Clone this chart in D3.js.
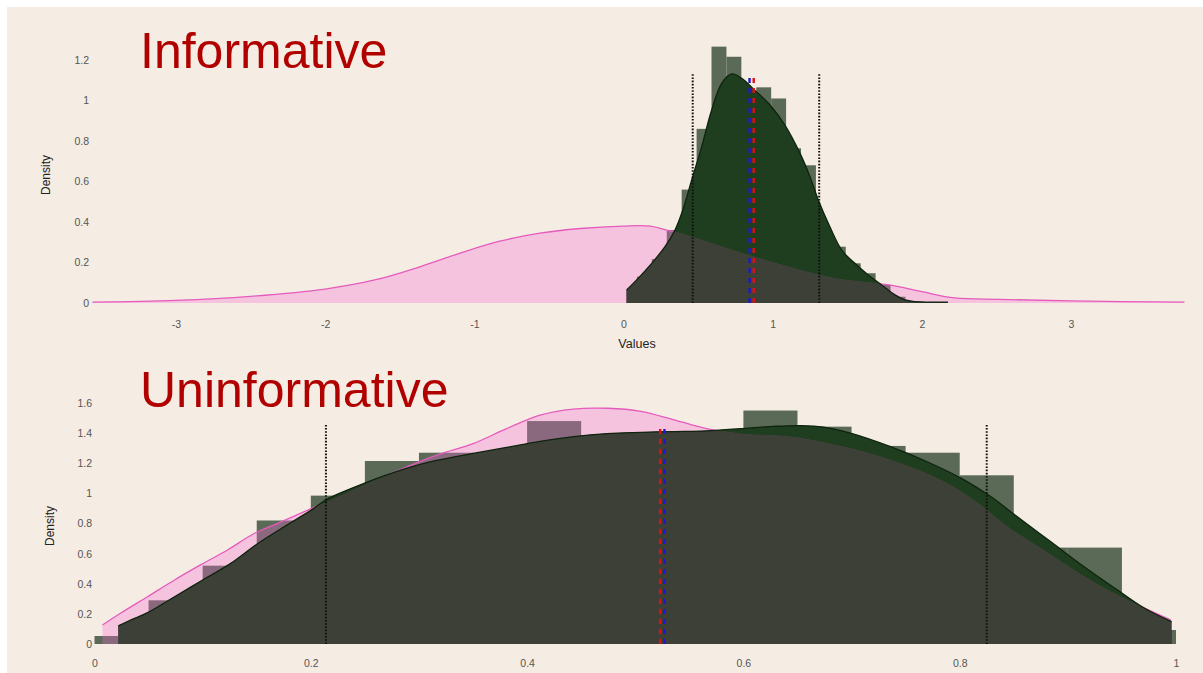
<!DOCTYPE html>
<html>
<head>
<meta charset="utf-8">
<script src="https://cdn.jsdelivr.net/npm/d3@7"></script>
<style>
  html, body { margin: 0; padding: 0; background: #ffffff; }
  #chart svg { display: block; }
  .axis text { font-family: "Liberation Sans", Arial, sans-serif; font-size: 10.5px; fill: #555; }
</style>
</head>
<body>
<div id="chart"></div>
<script>
// ---- Panel 1: Informative ----
const topTicksX = [-3, -2, -1, 0, 1, 2, 3];
const topTicksY = [0, 0.2, 0.4, 0.6, 0.8, 1, 1.2];
const topHistEdges = [0.02, 0.09, 0.19, 0.29, 0.39, 0.49, 0.59, 0.69, 0.79, 0.89, 0.99,
                      1.09, 1.19, 1.29, 1.39, 1.49, 1.59, 1.69, 1.79, 1.89];
const topHistDensity = [0.064, 0.13, 0.217, 0.36, 0.56, 0.86, 1.266, 1.216, 0.98, 1.065,
                        1.01, 0.764, 0.68, 0.336, 0.278, 0.196, 0.147, 0.089, 0.031];
const topPostX = [0.021, 0.088, 0.189, 0.278, 0.345, 0.39, 0.457, 0.524, 0.591, 0.658, 0.725,
                  0.792, 0.881, 0.982, 1.082, 1.183, 1.25, 1.306, 1.373, 1.462, 1.551, 1.641,
                  1.731, 1.82, 1.887, 1.954, 2.175];
const topPostY = [0.064, 0.114, 0.196, 0.278, 0.36, 0.443, 0.607, 0.772, 0.953, 1.085, 1.131,
                  1.11, 1.05, 0.978, 0.879, 0.74, 0.624, 0.509, 0.394, 0.262, 0.196, 0.138,
                  0.089, 0.04, 0.015, 0.007, 0.004];
const topPriorX = [-3.56, -3.0, -2.5, -2.0, -1.66, -1.36, -1.1, -0.83, -0.56, -0.29, 0, 0.18,
                   0.29, 0.38, 0.96, 1.41, 1.78, 2.0, 2.22, 2.52, 3.0, 3.76];
const topPriorY = [0.004, 0.013, 0.033, 0.069, 0.115, 0.18, 0.245, 0.305, 0.345, 0.368, 0.38, 0.38,
                   0.36, 0.345, 0.21, 0.123, 0.089, 0.056, 0.025, 0.018, 0.01, 0.004];
const topInterval = [0.464, 1.312];
const topMedian = 0.845;   // blue
const topMean = 0.873;     // red

// ---- Panel 2: Uninformative ----
const botTicksX = [0, 0.2, 0.4, 0.6, 0.8, 1];
const botTicksY = [0, 0.2, 0.4, 0.6, 0.8, 1, 1.2, 1.4, 1.6];
const botHistEdges = [0, 0.022, 0.05, 0.1, 0.15, 0.2, 0.25, 0.3, 0.35, 0.4, 0.45, 0.5, 0.55,
                      0.6, 0.65, 0.7, 0.75, 0.8, 0.85, 0.9, 0.95, 1.0];
const botHistDensity = [0.053, 0.12, 0.29, 0.52, 0.82, 0.985, 1.215, 1.27, 1.23, 1.48, 1.30,
                        1.38, 1.33, 1.55, 1.443, 1.315, 1.27, 1.12, 0.64, 0.64, 0.093];
const botPostX = [0.022, 0.037, 0.049, 0.074, 0.1, 0.126, 0.149, 0.173, 0.2, 0.216, 0.24, 0.265,
                  0.29, 0.314, 0.35, 0.381, 0.412, 0.443, 0.474, 0.505, 0.535, 0.566, 0.597,
                  0.628, 0.653, 0.674, 0.699, 0.736, 0.773, 0.804, 0.829, 0.853, 0.884, 0.915,
                  0.946, 0.971, 0.996];
const botPostY = [0.12, 0.17, 0.208, 0.314, 0.425, 0.535, 0.657, 0.768, 0.887, 0.965, 1.04, 1.11,
                  1.17, 1.215, 1.265, 1.305, 1.345, 1.377, 1.397, 1.405, 1.41, 1.415, 1.43,
                  1.445, 1.45, 1.44, 1.4, 1.31, 1.2, 1.09, 0.978, 0.846, 0.68, 0.513,
                  0.358, 0.237, 0.148];
const botPriorX = [0.0074, 0.024, 0.049, 0.074, 0.098, 0.123, 0.148, 0.173, 0.194, 0.22, 0.26,
                   0.29, 0.319, 0.35, 0.381, 0.412, 0.443, 0.474, 0.505, 0.535, 0.566, 0.6,
                   0.644, 0.705, 0.745, 0.782, 0.813, 0.844, 0.875, 0.906, 0.937, 0.968, 0.995];
const botPriorY = [0.126, 0.204, 0.314, 0.425, 0.525, 0.624, 0.735, 0.812, 0.879, 0.96, 1.09,
                   1.18, 1.26, 1.33, 1.43, 1.52, 1.56, 1.565, 1.545, 1.49, 1.43, 1.395,
                   1.376, 1.288, 1.2, 1.09, 0.956, 0.78, 0.636, 0.49, 0.358, 0.248, 0.16];
const botInterval = [0.214, 0.825];
const botMean = 0.523;     // red
const botMedian = 0.527;   // blue

(() => {
  const width = 1203, height = 673;
  const C = {
    bg: "#f5ece3",
    hist: "#5b6a56",
    post: "#1f3d1f",
    postLine: "#0e240e",
    prior: "rgba(250,100,215,0.3)",
    priorLine: "#e25ab8",
    overlap: "#3d4036",
    title: "#b10000"
  };

  const svg = d3.select("#chart").append("svg")
    .attr("width", width).attr("height", height);

  svg.append("rect").attr("x", 7).attr("y", 7)
    .attr("width", width - 7).attr("height", height - 7)
    .attr("fill", C.bg);

  const defs = svg.append("defs");

  function panel(opt) {
    const { id, x, y } = opt;
    const g = svg.append("g");
    const zip = (xs, ys) => xs.map((v, i) => [v, ys[i]]);
    const post = zip(opt.postX, opt.postY);
    const prior = zip(opt.priorX, opt.priorY);

    const area = d3.area().x(d => x(d[0])).y0(y(0)).y1(d => y(d[1]))
      .curve(d3.curveCatmullRom);
    const line = d3.line().x(d => x(d[0])).y(d => y(d[1]))
      .curve(d3.curveCatmullRom);

    // 1) histogram
    const bins = opt.heights.map((h, i) => ({ x0: opt.edges[i], x1: opt.edges[i + 1], h }));
    g.selectAll("rect.bar").data(bins).join("rect")
      .attr("class", "bar")
      .attr("x", d => x(d.x0))
      .attr("y", d => y(d.h))
      .attr("width", d => x(d.x1) - x(d.x0))
      .attr("height", d => y(0) - y(d.h))
      .attr("fill", C.hist);

    // 2) prior line (goes under posterior fill)
    g.append("path").attr("d", line(prior))
      .attr("fill", "none").attr("stroke", C.priorLine).attr("stroke-width", 1.3);

    // 3) posterior density
    g.append("path").attr("d", area(post)).attr("fill", C.post);

    // 4) prior fill, translucent
    g.append("path").attr("d", area(prior)).attr("fill", C.prior);

    // 5) prior ∩ posterior
    defs.append("clipPath").attr("id", "clip-" + id)
      .append("path").attr("d", area(post));
    g.append("path").attr("d", area(prior))
      .attr("clip-path", `url(#clip-${id})`)
      .attr("fill", C.overlap);

    // 6) posterior outline
    g.append("path").attr("d", line(post))
      .attr("fill", "none").attr("stroke", C.postLine).attr("stroke-width", 1.3);

    // 7) interval lines
    g.selectAll("line.ci").data(opt.interval).join("line")
      .attr("class", "ci")
      .attr("x1", d => x(d)).attr("x2", d => x(d))
      .attr("y1", y(0)).attr("y2", opt.lineTop)
      .attr("stroke", "#111").attr("stroke-width", 2)
      .attr("stroke-dasharray", "1.6,1.6");

    [[opt.median, "#1a1ad0"], [opt.mean, "#e01010"]].forEach(([v, col]) => {
      g.append("line")
        .attr("x1", x(v)).attr("x2", x(v))
        .attr("y1", y(0)).attr("y2", opt.lineTop + 2)
        .attr("stroke", col).attr("stroke-width", 2.4)
        .attr("stroke-dasharray", "5,5");
    });

    // 8) axes
    g.append("g").attr("class", "axis")
      .attr("transform", `translate(0,${y(0)})`)
      .call(d3.axisBottom(x).tickValues(opt.ticksX).tickSize(0)
        .tickPadding(opt.padX).tickFormat(d => String(d)))
      .call(a => a.select(".domain").remove());

    g.append("g").attr("class", "axis")
      .attr("transform", `translate(${opt.axisLeftX},0)`)
      .call(d3.axisLeft(y).tickValues(opt.ticksY).tickSize(0)
        .tickPadding(3).tickFormat(d => String(d)))
      .call(a => a.select(".domain").remove());

    g.append("text")
      .attr("transform", `translate(${opt.densityX},${opt.densityY}) rotate(-90)`)
      .attr("text-anchor", "middle")
      .attr("dy", "0.35em")
      .style("font-family", "Liberation Sans, Arial, sans-serif")
      .style("font-size", "12px").style("fill", "#222")
      .text("Density");

    g.append("text")
      .attr("x", 140).attr("y", opt.titleY)
      .style("font-family", "Liberation Sans, Arial, sans-serif")
      .style("font-size", "50px").style("fill", C.title)
      .text(opt.title);
  }

  panel({
    id: "top", title: "Informative", titleY: 68,
    x: d3.scaleLinear().domain([-3, 3]).range([176, 1071]),
    y: d3.scaleLinear().domain([0, 1.2]).range([303, 60]),
    edges: topHistEdges, heights: topHistDensity,
    postX: topPostX, postY: topPostY, priorX: topPriorX, priorY: topPriorY,
    interval: topInterval, mean: topMean, median: topMedian, lineTop: 73,
    ticksX: topTicksX, ticksY: topTicksY, padX: 18, axisLeftX: 92,
    densityX: 46, densityY: 175
  });

  svg.append("text")
    .attr("x", 637).attr("y", 344).attr("text-anchor", "middle").attr("dy", "0.35em")
    .style("font-family", "Liberation Sans, Arial, sans-serif")
    .style("font-size", "12.5px").style("fill", "#222")
    .text("Values");

  panel({
    id: "bot", title: "Uninformative", titleY: 407,
    x: d3.scaleLinear().domain([0, 1]).range([94.5, 1176]),
    y: d3.scaleLinear().domain([0, 1.6]).range([644, 403]),
    edges: botHistEdges, heights: botHistDensity,
    postX: botPostX, postY: botPostY, priorX: botPriorX, priorY: botPriorY,
    interval: botInterval, mean: botMean, median: botMedian, lineTop: 425,
    ticksX: botTicksX, ticksY: botTicksY, padX: 16, axisLeftX: 95,
    densityX: 50, densityY: 526
  });
})();
</script>
</body>
</html>
